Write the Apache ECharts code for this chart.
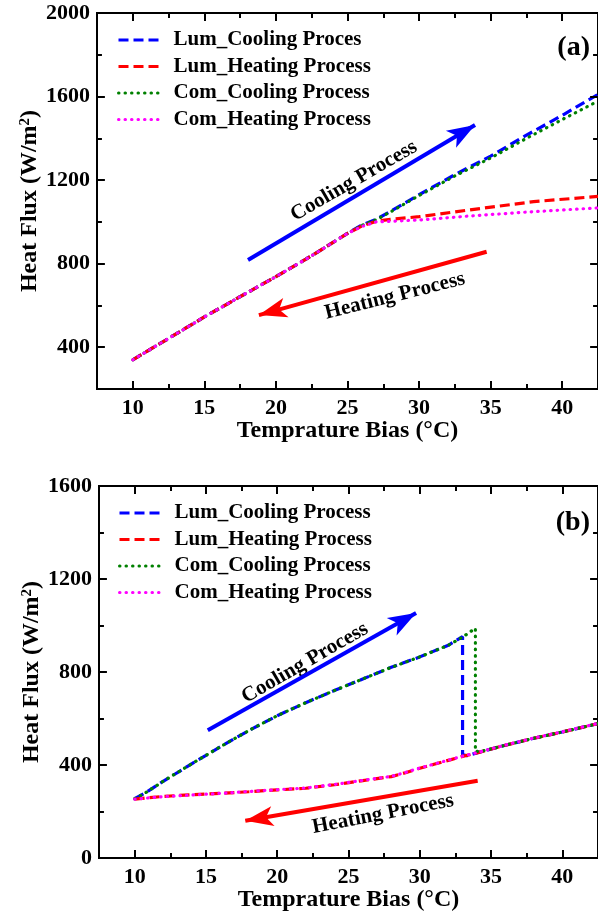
<!DOCTYPE html>
<html>
<head>
<meta charset="utf-8">
<title>Heat flux vs temperature bias</title>
<script src="https://cdn.jsdelivr.net/npm/echarts@6/dist/echarts.min.js"></script>
<style>
  html, body { margin: 0; padding: 0; background: #fff; }
  #chartA { position: absolute; left: 0; top: 0; width: 598px; height: 460px; }
  #chartB { position: absolute; left: 0; top: 460px; width: 598px; height: 457px; }
</style>
</head>
<body>
<div id="chartA"></div>
<div id="chartB"></div>
<script>
const FONT = '"Liberation Serif", "Times New Roman", serif'

// axis ranges and tick values (frame is cut at the right edge of the figure)
const xRange = [7.5, 42.5]
const xMajorTicks = [10, 15, 20, 25, 30, 35, 40]
const xMinorTicks = [12.5, 17.5, 22.5, 27.5, 32.5, 37.5]
const aYRange = [200, 2000]
const aYMajorTicks = [400, 800, 1200, 1600]
const aYMinorTicks = [600, 1000, 1400, 1800]
const bYRange = [0, 1600]
const bYMajorTicks = [400, 800, 1200]
const bYMinorTicks = [200, 600, 1000, 1400]

// (a)
const aNames = ['Lum_Cooling Proces', 'Lum_Heating Process', 'Com_Cooling Process', 'Com_Heating Process']
const aLumCoolX = [10, 12.5, 15, 17.5, 20, 22.5, 25, 26, 27, 28, 30, 32.5, 35, 37.5, 40, 42.5]
const aLumCoolY = [340, 442, 545, 642, 738, 838, 945, 985, 1012, 1050, 1130, 1226, 1315, 1415, 1510, 1610]
const aComCoolX = [10, 12.5, 15, 17.5, 20, 22.5, 25, 26, 27, 28, 30, 32.5, 35, 37.5, 40, 42.5]
const aComCoolY = [340, 442, 545, 642, 738, 838, 945, 983, 1010, 1048, 1126, 1220, 1306, 1400, 1490, 1578]
const aLumHeatX = [10, 12.5, 15, 17.5, 20, 22.5, 25, 26, 27, 28, 30, 33.5, 38, 42.5]
const aLumHeatY = [340, 442, 545, 642, 738, 838, 945, 980, 1003, 1012, 1025, 1057, 1097, 1122]
const aComHeatX = [10, 12.5, 15, 17.5, 20, 22.5, 25, 26, 27, 28, 30, 33.5, 38, 42.5]
const aComHeatY = [340, 442, 545, 642, 738, 838, 945, 978, 1000, 1003, 1009, 1028, 1049, 1067]
const aCoolArrow = [[18.05, 818], [33.91, 1464]]
const aHeatArrow = [[34.72, 857], [18.81, 554]]

// (b)
const bNames = ['Lum_Cooling Process', 'Lum_Heating Process', 'Com_Cooling Process', 'Com_Heating Process']
const bLumCoolX = [10, 10.8, 12, 14, 16, 18, 20, 22, 24, 26, 28, 30, 32, 33, 33, 33.3, 34, 36, 38, 40, 42.5]
const bLumCoolY = [255, 282, 330, 405, 478, 548, 612, 668, 720, 770, 820, 865, 915, 952, 445, 440, 452, 485, 515, 542, 578]
const bComCoolX = [10, 10.8, 12, 14, 16, 18, 20, 22, 24, 26, 28, 30, 32, 33, 33.9, 33.9, 34.4, 36, 38, 40, 42.5]
const bComCoolY = [255, 282, 330, 405, 478, 548, 612, 668, 720, 770, 820, 865, 915, 950, 988, 458, 460, 485, 515, 542, 578]
const bLumHeatX = [10, 12, 14, 16, 18, 20, 22, 24, 26, 28, 29, 30, 31, 32, 33, 34, 36, 38, 40, 42.5]
const bLumHeatY = [253, 265, 272, 278, 285, 293, 300, 315, 333, 350, 367, 386, 403, 420, 437, 452, 485, 515, 542, 578]
const bComHeatX = [10, 12, 14, 16, 18, 20, 22, 24, 26, 28, 29, 30, 31, 32, 33, 34, 36, 38, 40, 42.5]
const bComHeatY = [253, 264, 271, 278, 286, 294, 301, 316, 334, 351, 368, 387, 404, 421, 438, 453, 486, 516, 543, 579]
const bCoolArrow = [[15.13, 549], [29.74, 1054]]
const bHeatArrow = [[34.06, 332], [17.76, 160]]

const lblStyle = { color: '#000', fontFamily: FONT, fontWeight: 'bold', fontSize: 22 }
const nameStyle = { color: '#000', fontFamily: FONT, fontWeight: 'bold', fontSize: 24 }

function pairs(xs, ys) {
  return xs.map((x, i) => [x, ys[i]])
}

function everyN(step) {
  return v => (Math.abs(v / step - Math.round(v / step)) < 1e-6 ? String(v) : '')
}

function bareAxis(extra) {
  return Object.assign({
    type: 'value',
    splitLine: { show: false },
    axisLine: { show: false },
    axisTick: { show: false },
    axisLabel: { show: false }
  }, extra)
}

function lineSeries(name, data, color, dotted) {
  return {
    name: name,
    type: 'line',
    data: data,
    symbol: 'none',
    animation: false,
    lineStyle: dotted
      ? { color: color, width: 3.2, type: [0.5, 6], cap: 'round' }
      : { color: color, width: 3.2, type: [10, 5] },
    itemStyle: { color: color }
  }
}

function arrows(cool, heat) {
  const head = { symbol: 'arrow', symbolSize: [15, 28] }
  return {
    silent: true,
    symbol: ['none', 'arrow'],
    label: { show: false },
    animation: false,
    lineStyle: { width: 4, type: 'solid' },
    data: [
      [{ coord: cool[0], symbol: 'none', lineStyle: { color: '#0000ff', width: 4, type: 'solid' } },
        Object.assign({ coord: cool[1] }, head)],
      [{ coord: heat[0], symbol: 'none', lineStyle: { color: '#ff0000', width: 4, type: 'solid' } },
        Object.assign({ coord: heat[1] }, head)]
    ]
  }
}

// inward tick marks on all four sides, placed in data coordinates
function tickMarks(cfg) {
  const [x0, x1] = xRange
  const [y0, y1] = cfg.yRange
  const dx = (x1 - x0) / cfg.width
  const dy = (y1 - y0) / cfg.height
  const segs = []
  const addX = (vals, len) => vals.forEach(v => {
    segs.push([{ coord: [v, y0] }, { coord: [v, y0 + len * dy] }])
    segs.push([{ coord: [v, y1] }, { coord: [v, y1 - len * dy] }])
  })
  const addY = (vals, len) => vals.forEach(v => {
    segs.push([{ coord: [x0, v] }, { coord: [x0 + len * dx, v] }])
    segs.push([{ coord: [x1, v] }, { coord: [x1 - len * dx, v] }])
  })
  addX(xMajorTicks, 8)
  addX(xMinorTicks, 5)
  addY(cfg.yMajorTicks, 8)
  addY(cfg.yMinorTicks, 5)
  return {
    silent: true,
    symbol: ['none', 'none'],
    label: { show: false },
    animation: false,
    lineStyle: { color: '#000', width: 2, type: 'solid' },
    emphasis: { disabled: true },
    data: segs
  }
}

function note(text, x, y, deg, size, align) {
  return {
    type: 'text', x: x, y: y, rotation: deg * Math.PI / 180,
    style: {
      text: text, fill: '#000', font: 'bold ' + size + 'px ' + FONT,
      align: align || 'center', verticalAlign: 'middle'
    }
  }
}

function buildOption(cfg) {
  const xAxis = [
    bareAxis({
      min: xRange[0], max: xRange[1], interval: 2.5, position: 'bottom',
      axisLabel: Object.assign({ show: true, margin: 8, formatter: everyN(5), showMaxLabel: false }, lblStyle)
    }),
    bareAxis({
      min: xRange[0], max: xRange[1], position: 'bottom',
      name: 'Temprature Bias (°C)', nameLocation: 'middle', nameGap: 30, nameTextStyle: nameStyle
    })
  ]
  const yAxis = [
    bareAxis({
      min: cfg.yRange[0], max: cfg.yRange[1], interval: 200, position: 'left',
      axisLabel: Object.assign({ show: true, margin: 7, formatter: everyN(400) }, lblStyle)
    }),
    bareAxis({
      min: cfg.yRange[0], max: cfg.yRange[1], position: 'left',
      name: 'Heat Flux (W/m{sup|2})', nameLocation: 'middle', nameGap: 55,
      nameTextStyle: Object.assign({
        rich: { sup: { fontFamily: FONT, fontWeight: 'bold', fontSize: 15, verticalAlign: 'top', lineHeight: 24, padding: [0, 0, 8, 0] } }
      }, nameStyle)
    })
  ]

  const series = [
    lineSeries(cfg.names[0], cfg.lumCool, '#0000ff', false),
    lineSeries(cfg.names[1], cfg.lumHeat, '#ff0000', false),
    lineSeries(cfg.names[2], cfg.comCool, '#008000', true),
    lineSeries(cfg.names[3], cfg.comHeat, '#ff00ff', true)
  ]
  series[0].markLine = arrows(cfg.coolArrow, cfg.heatArrow)
  series[1].markLine = tickMarks(cfg)

  return {
    backgroundColor: '#fff',
    animation: false,
    grid: {
      show: true, borderColor: '#000', borderWidth: 2,
      left: cfg.left, top: cfg.top, width: cfg.width, height: cfg.height
    },
    xAxis: xAxis,
    yAxis: yAxis,
    legend: {
      orient: 'vertical', left: cfg.legendLeft, top: cfg.legendTop,
      itemWidth: 40, itemHeight: 14, itemGap: 4.5,
      selectedMode: false,
      data: cfg.names,
      itemStyle: { opacity: 0 },
      lineStyle: { width: 3 },
      textStyle: Object.assign({ lineHeight: 22, padding: [0, 0, 0, 10] }, lblStyle, { fontSize: 21 })
    },
    graphic: cfg.notes,
    series: series
  }
}

const chartA = echarts.init(document.getElementById('chartA'))
chartA.setOption(buildOption({
  left: 97, top: 13, width: 507.6, height: 376,
  yRange: aYRange, yMajorTicks: aYMajorTicks, yMinorTicks: aYMinorTicks,
  names: aNames,
  lumCool: pairs(aLumCoolX, aLumCoolY),
  lumHeat: pairs(aLumHeatX, aLumHeatY),
  comCool: pairs(aComCoolX, aComCoolY),
  comHeat: pairs(aComHeatX, aComHeatY),
  coolArrow: aCoolArrow, heatArrow: aHeatArrow,
  legendLeft: 112, legendTop: 24,
  notes: [
    note('Cooling Process', 354, 181, 30, 21),
    note('Heating Process', 395, 296, 14, 21),
    note('(a)', 590, 48, 0, 28, 'right')
  ]
}))

const chartB = echarts.init(document.getElementById('chartB'))
chartB.setOption(buildOption({
  left: 99, top: 26, width: 503.6, height: 373,
  yRange: bYRange, yMajorTicks: bYMajorTicks, yMinorTicks: bYMinorTicks,
  names: bNames,
  lumCool: pairs(bLumCoolX, bLumCoolY),
  lumHeat: pairs(bLumHeatX, bLumHeatY),
  comCool: pairs(bComCoolX, bComCoolY),
  comHeat: pairs(bComHeatX, bComHeatY),
  coolArrow: bCoolArrow, heatArrow: bHeatArrow,
  legendLeft: 113, legendTop: 37,
  notes: [
    note('Cooling Process', 305, 203, 30, 21),
    note('Heating Process', 383, 354, 11, 21),
    note('(b)', 590, 63, 0, 28, 'right')
  ]
}))
</script>
</body>
</html>
